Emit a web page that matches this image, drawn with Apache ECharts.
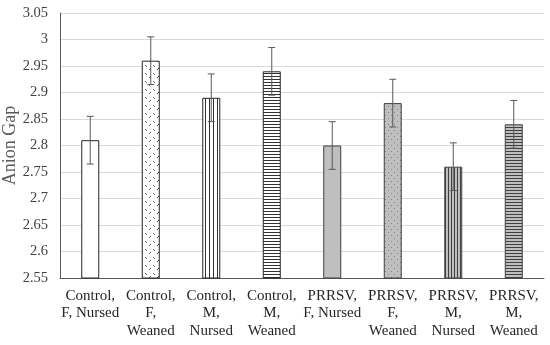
<!DOCTYPE html>
<html><head><meta charset="utf-8">
<script src="https://cdn.jsdelivr.net/npm/echarts@6/dist/echarts.min.js"></script>
<style>html,body{margin:0;padding:0;background:#fff}#c{width:550px;height:345px}</style>
</head><body><div id="c"></div>
<script>
var categories = ['Control,\nF, Nursed','Control,\nF,\nWeaned','Control,\nM,\nNursed','Control,\nM,\nWeaned','PRRSV,\nF, Nursed','PRRSV,\nF,\nWeaned','PRRSV,\nM,\nNursed','PRRSV,\nM,\nWeaned'];
var values = [2.81, 2.96, 2.89, 2.94, 2.80, 2.88, 2.76, 2.84];
var errors = [0.045, 0.045, 0.045, 0.045, 0.045, 0.045, 0.045, 0.045];

function pat(w, h, bg, draw){
  var c = document.createElement('canvas'); c.width = w; c.height = h;
  var g = c.getContext('2d'); g.fillStyle = bg; g.fillRect(0,0,w,h);
  draw(g); return {image: c, repeat: 'repeat'};
}
var fills = [
  '#ffffff',
  pat(8, 8, '#ffffff', function(g){ g.fillStyle='#666'; g.fillRect(1,1,1,1); g.fillRect(2,2,1,1); g.fillRect(5,5,1,1); g.fillRect(6,4,1,1);}),
  pat(4, 4, '#ffffff', function(g){ g.fillStyle='#333'; g.fillRect(1,0,1,4);}),
  pat(4, 3, '#ffffff', function(g){ g.fillStyle='#333'; g.fillRect(0,1,4,1);}),
  '#bfbfbf',
  pat(6, 6, '#bfbfbf', function(g){ g.fillStyle='#858585'; g.fillRect(1,1,1,1); g.fillRect(4,4,1,1);}),
  pat(3, 4, '#bfbfbf', function(g){ g.fillStyle='#404040'; g.fillRect(1,0,1,4);}),
  pat(4, 3, '#bfbfbf', function(g){ g.fillStyle='#404040'; g.fillRect(0,1,4,1);})
];
var borders = ['#262626','#262626','#262626','#262626','#404040','#404040','#404040','#404040'];

var barData = values.map(function(v,i){
  return {value: v, itemStyle: {color: fills[i], borderColor: borders[i], borderWidth: 1}};
});
var errData = values.map(function(v,i){ return [i, v - errors[i], v + errors[i]]; });

var chart = echarts.init(document.getElementById('c'), null, {renderer:'canvas'});
chart.setOption({
  animation: false,
  grid: {left: 60, right: 6, top: 13, bottom: 67, outerBoundsMode: 'none', containLabel: false},
  xAxis: {
    type: 'category', data: categories,
    axisLine: {lineStyle: {color: '#595959', width: 1}},
    axisTick: {show: false},
    axisLabel: {interval: 0, color: '#262626', fontFamily: 'Liberation Serif', fontSize: 15, lineHeight: 17.5, margin: 9}
  },
  yAxis: {
    type: 'value', min: 2.55, max: 3.05, interval: 0.05,
    name: 'Anion Gap', nameLocation: 'middle', nameGap: 41, nameMoveOverlap: false,
    nameTextStyle: {color: '#595959', fontFamily: 'Liberation Serif', fontSize: 18},
    axisLine: {show: true, lineStyle: {color: '#595959', width: 1}},
    axisTick: {show: false},
    splitLine: {lineStyle: {color: '#d9d9d9', width: 1}},
    axisLabel: {color: '#404040', fontFamily: 'Liberation Serif', fontSize: 14.5, margin: 12,
      formatter: function(v){ return String(parseFloat(v.toFixed(2))); }}
  },
  series: [
    {type: 'bar', data: barData, barWidth: 18},
    {type: 'custom', data: errData, z: 10,
      renderItem: function(params, api){
        var x = api.value(0);
        var lo = api.coord([x, api.value(1)]);
        var hi = api.coord([x, api.value(2)]);
        var cx = lo[0], hw = 3.5;
        var st = {stroke: '#595959', lineWidth: 1};
        return {type: 'group', children: [
          {type: 'line', shape: {x1: cx, y1: hi[1], x2: cx, y2: lo[1]}, style: st},
          {type: 'line', shape: {x1: cx-hw, y1: hi[1], x2: cx+hw, y2: hi[1]}, style: st},
          {type: 'line', shape: {x1: cx-hw, y1: lo[1], x2: cx+hw, y2: lo[1]}, style: st}
        ]};
      }
    }
  ]
});
</script></body></html>
